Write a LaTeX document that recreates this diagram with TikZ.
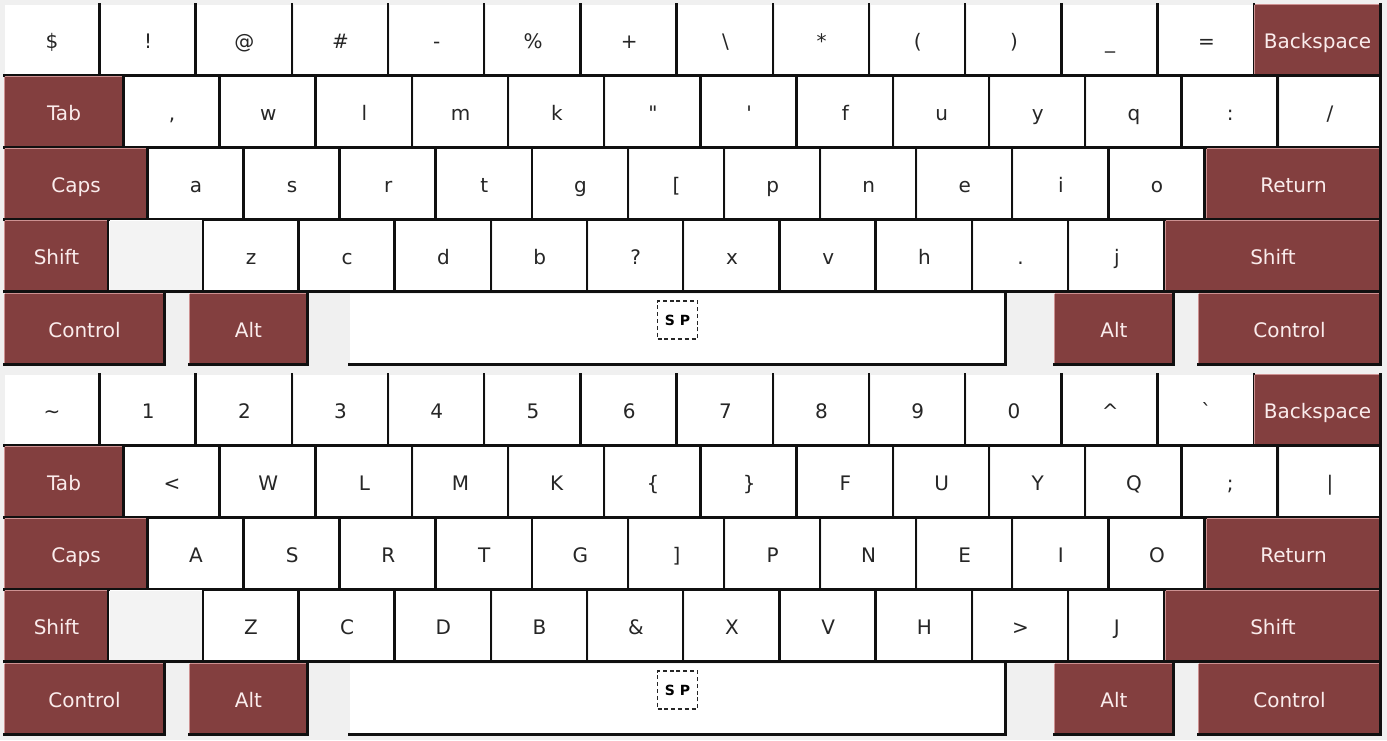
\documentclass[tikz,border=0pt]{standalone}
\usepackage{fontspec}
\newfontfamily\keyfont{DejaVu Sans}
\usetikzlibrary{positioning}
\definecolor{keyred}{RGB}{131,63,63}
\definecolor{keyredlight}{RGB}{205,145,145}
\definecolor{keytext}{RGB}{250,236,236}
\definecolor{padgray}{RGB}{240,240,240}
\definecolor{edgeblack}{RGB}{16,16,16}

\tikzset{
  keyedge/.style={draw=edgeblack, line width=1.2pt, line cap=rect},
  keylight/.style={draw=#1, line width=0.7pt},
  kbkey/.style={fill=white, inner sep=0pt, minimum height=35pt, minimum width=#1*0.5pt,
    text=black!85, font={\keyfont\fontsize{10}{12}\selectfont}, text height=9pt, text depth=0.5pt,
    append after command={(\tikzlastnode.north east) edge[keyedge] (\tikzlastnode.south east)
      (\tikzlastnode.south east) edge[keyedge] (\tikzlastnode.south west)}},
  modkey/.style={kbkey=#1, fill=keyred, text=keytext,
    append after command={([yshift=0.7pt]\tikzlastnode.south west) edge[keylight=keyredlight] (\tikzlastnode.north west)
      (\tikzlastnode.north west) edge[keylight=keyredlight] ([xshift=-0.7pt]\tikzlastnode.north east)}},
  blankkey/.style={kbkey=#1, fill=padgray!80!white,
    append after command={([yshift=0.7pt]\tikzlastnode.south west) edge[keylight=white] (\tikzlastnode.north west)
      (\tikzlastnode.north west) edge[keylight=white] ([xshift=-0.7pt]\tikzlastnode.north east)}},
  spbox/.style={draw=black!85, line width=0.6pt, dash pattern=on 2pt off 1.4pt, inner sep=0pt,
    minimum width=20pt, minimum height=19pt, text=black,
    font={\keyfont\bfseries\fontsize{7}{8}\selectfont}}
}

% #1 board name, #2 top row, #3 second row, #4 its last key, #5 home row, #6 lower row
\newcommand\keyboard[6]{%
  % top row
  \foreach \lbl [count=\n from 0] in {#2}
    \node[kbkey=94] (#1-r1-\n) at (52+96.2*\n,40) {\lbl};
  \node[modkey=125] (#1-bksp) at (1317.5,40) {Backspace};
  % second row
  \node[modkey=118] (#1-tab) at (64,112) {Tab};
  \foreach \lbl [count=\n from 0] in {#3}
    \node[kbkey=94] (#1-r2-\n) at (172+96.2*\n,112) {\lbl};
  \node[kbkey=100] (#1-r2-last) at (1330,112) {#4};
  % home row
  \node[modkey=142] (#1-caps) at (76,184) {Caps};
  \foreach \lbl [count=\n from 0] in {#5}
    \node[kbkey=94] (#1-r3-\n) at (196+96.1*\n,184) {\lbl};
  \node[modkey=173] (#1-ret) at (1293.5,184) {Return};
  % lower row
  \node[modkey=103] (#1-lshift) at (56.5,256) {Shift};
  \node[blankkey=93] (#1-blank) at (156.5,256) {};
  \foreach \lbl [count=\n from 0] in {#6}
    \node[kbkey=94] (#1-r4-\n) at (251+96.2*\n,256) {\lbl};
  \node[modkey=214] (#1-rshift) at (1273,256) {Shift};
  % bottom row
  \node[modkey=159] (#1-lctrl) at (84.5,329) {Control};
  \node[modkey=117] (#1-lalt) at (248.5,329) {Alt};
  \node[kbkey=655] (#1-space) at (677.5,329) {};
  \node[spbox] (#1-sp) at ([yshift=4.5pt]#1-space.center) {S P};
  \node[modkey=118] (#1-ralt) at (1114,329) {Alt};
  \node[modkey=181] (#1-rctrl) at (1289.5,329) {Control};
}

\begin{document}
\begin{tikzpicture}[x=0.5pt,y=-0.5pt]
\useasboundingbox (0,0) rectangle (1387,740);
\fill[padgray] (0,0) rectangle (1387,740);

\keyboard{low}
  {\$, !, @, \#, -, \%, +, \textbackslash, *, {(}, {)}, \_, =}
  {{,}, w, l, m, k, ", ', f, u, y, q, :}
  {/}
  {a, s, r, t, g, {[}, p, n, e, i, o}
  {z, c, d, b, ?, x, v, h, {.}, j}

\begin{scope}[shift={(0,370)}]
\keyboard{up}
  {\textasciitilde, 1, 2, 3, 4, 5, 6, 7, 8, 9, 0, \textasciicircum, `}
  {<, W, L, M, K, \{, \}, F, U, Y, Q, ;}
  {|}
  {A, S, R, T, G, {]}, P, N, E, I, O}
  {Z, C, D, B, \&, X, V, H, >, J}
\end{scope}
\end{tikzpicture}
\end{document}
